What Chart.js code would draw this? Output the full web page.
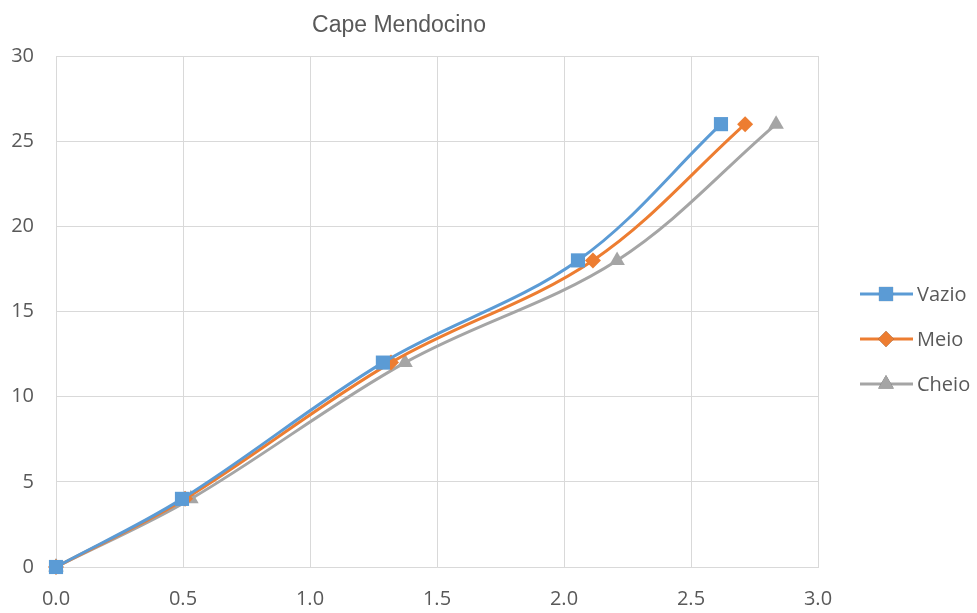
<!DOCTYPE html>
<html>
<head>
<meta charset="utf-8">
<script src="https://cdn.jsdelivr.net/npm/chart.js@4/dist/chart.umd.min.js"></script>
<style>
  html, body { margin: 0; padding: 0; background: #fff; }
  #wrap { width: 977px; height: 613px; }
</style>
</head>
<body>
<div id="wrap"><canvas id="chart" width="977" height="613"></canvas></div>
<script>
const seriesNames = ['Vazio', 'Meio', 'Cheio'];
const vazioX = [0, 0.496, 1.287, 2.055, 2.618];
const meioX  = [0, 0.508, 1.319, 2.114, 2.713];
const cheioX = [0, 0.531, 1.374, 2.209, 2.835];
const levels = [0, 4, 12, 18, 26];

const colors = ['#5B9BD5', '#ED7D31', '#A5A5A5'];
const markers = ['rect', 'rectRot', 'triangle'];
const markerSize = [10, 8, 9];
const xs = [vazioX, meioX, cheioX];

const TICK_FONT = '"Open Sans", sans-serif';
const TITLE_FONT = '"Liberation Sans", Arial, sans-serif';
const TXT = '#595959';

// titulo + legenda desenhados à mão (legenda com linha atravessando o marcador)
const decor = {
  id: 'decor',
  afterDraw(chart) {
    const ctx = chart.ctx;
    ctx.save();
    ctx.fillStyle = TXT;
    ctx.font = '23px ' + TITLE_FONT;
    ctx.textAlign = 'center';
    ctx.textBaseline = 'middle';
    ctx.fillText('Cape Mendocino', 399, 26);

    ctx.font = '20px ' + TICK_FONT;
    ctx.textAlign = 'left';
    seriesNames.forEach((name, i) => {
      const y = 294 + i * 45;
      ctx.strokeStyle = colors[i];
      ctx.lineWidth = 3;
      ctx.beginPath();
      ctx.moveTo(860, y);
      ctx.lineTo(913, y);
      ctx.stroke();
      Chart.helpers.drawPoint(ctx, {
        pointStyle: markers[i], radius: markerSize[i], rotation: 0, borderWidth: 0
      }, 886, y);
      ctx.fillStyle = colors[i];
      ctx.fill();
      ctx.fillStyle = TXT;
      ctx.fillText(name, 917, y + 1);
    });
    ctx.restore();
  }
};

new Chart(document.getElementById('chart'), {
  type: 'scatter',
  data: {
    datasets: seriesNames.map((name, i) => ({
      label: name,
      data: xs[i].map((x, k) => ({ x, y: levels[k] })),
      showLine: true,
      tension: 0.35,
      clip: false,
      borderColor: colors[i],
      backgroundColor: colors[i],
      borderWidth: 3,
      pointStyle: markers[i],
      pointRadius: markerSize[i],
      pointHoverRadius: markerSize[i],
      pointBorderWidth: 0,
    })),
  },
  options: {
    responsive: false,
    animation: false,
    layout: { padding: { top: 56, right: 159, left: 0, bottom: 0 } },
    plugins: { legend: { display: false }, title: { display: false }, tooltip: { enabled: false } },
    scales: {
      x: {
        type: 'linear', min: 0, max: 3,
        ticks: { stepSize: 0.5, color: TXT, font: { family: TICK_FONT, size: 20 }, padding: 20,
                 callback: v => v.toFixed(1) },
        grid: { color: '#D9D9D9', drawTicks: false },
        border: { color: '#D9D9D9' },
        afterFit: s => { s.height = 46; },
      },
      y: {
        min: 0, max: 30,
        ticks: { stepSize: 5, color: TXT, font: { family: TICK_FONT, size: 20 }, padding: 22 },
        grid: { color: '#D9D9D9', drawTicks: false },
        border: { color: '#D9D9D9' },
        afterFit: s => { s.width = 56; },
      },
    },
  },
  plugins: [decor],
});
</script>
</body>
</html>
